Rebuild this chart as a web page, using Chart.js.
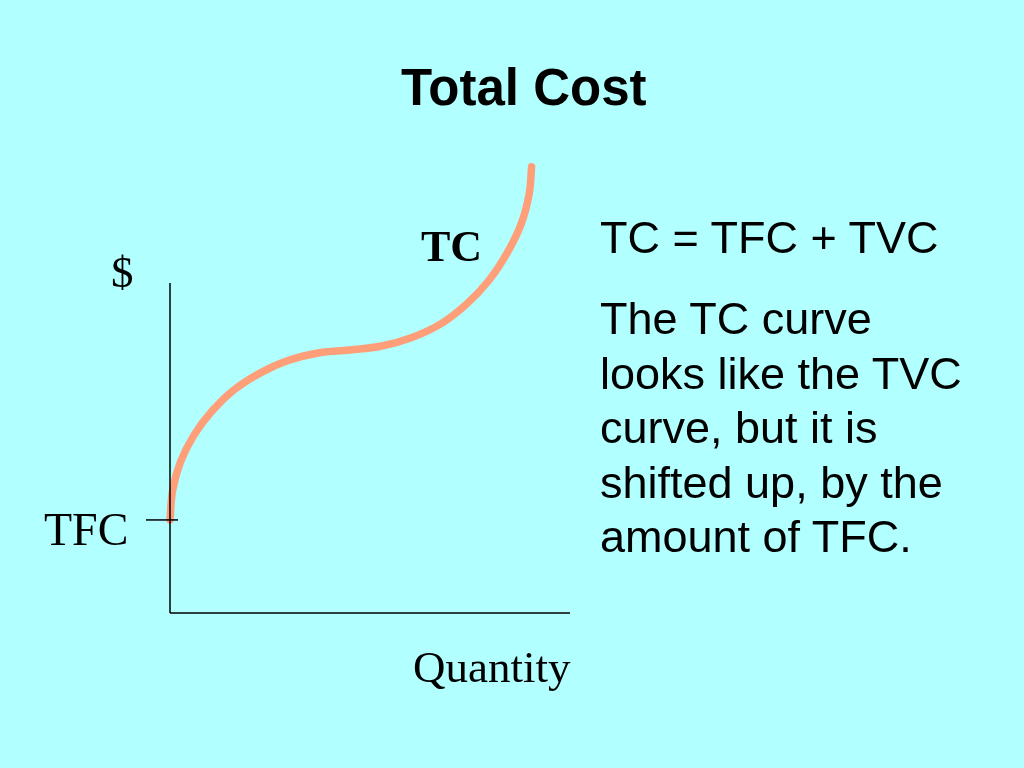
<!DOCTYPE html>
<html>
<head>
<meta charset="utf-8">
<script src="https://cdn.jsdelivr.net/npm/chart.js@4/dist/chart.umd.min.js"></script>
<style>
  html, body { margin: 0; padding: 0; background: #B2FFFF; }
  #wrap { position: relative; width: 1024px; height: 768px; overflow: hidden; background: #B2FFFF; }
  #wrap canvas { position: absolute; left: 0; top: 0; }
  .t { position: absolute; white-space: nowrap; color: #000; line-height: 1; }
  .sans { font-family: "Liberation Sans", Arial, sans-serif; }
  .serif { font-family: "Liberation Serif", "Times New Roman", serif; }
</style>
</head>
<body>
<div id="wrap">
  <canvas id="c" width="1024" height="768"></canvas>
  <div class="t sans" style="left:401px; top:62px; font-size:51px; font-weight:bold;">Total Cost</div>
  <div class="t serif" style="left:421px; top:225px; font-size:44px; font-weight:bold;">TC</div>
  <div class="t serif" style="left:111px; top:250px; font-size:45px;">$</div>
  <div class="t serif" style="left:44px; top:507px; font-size:46px;">TFC</div>
  <div class="t serif" style="left:413px; top:645px; font-size:45px;">Quantity</div>
  <div class="t sans" style="left:600px; top:215px; font-size:45px;">TC = TFC + TVC</div>
  <div class="t sans" style="left:600px; top:292px; font-size:45px; line-height:54.5px;">The TC curve<br>looks like the TVC<br>curve, but it is<br>shifted up, by the<br>amount of TFC.</div>
</div>
<script>
// ---- data ----
const quantity  = [0, 0.068, 0.263, 0.6, 1.05, 1.6, 2.25, 2.95, 3.71, 4.5, 5.29, 6.05, 6.78, 7.43, 7.98, 8.43, 8.78, 8.98, 9.04];
const totalCost = [2.82, 3.73, 4.58, 5.39, 6.12, 6.76, 7.27, 7.65, 7.88, 7.97, 8.09, 8.35, 8.77, 9.38, 10.09, 10.91, 11.79, 12.70, 13.52];
const tfcValue = 2.82;
const tfcTickX = [-0.6, 0.2];
const axisMaxX = 10;
const axisMaxY = 10;
const scaleMaxY = 14;

const tcPoints = quantity.map((q, i) => ({ x: q, y: totalCost[i] }));
const yAxisPts = [{ x: 0, y: 0 }, { x: 0, y: axisMaxY }];
const xAxisPts = [{ x: 0, y: 0 }, { x: axisMaxX, y: 0 }];
const tfcPts = [{ x: tfcTickX[0], y: tfcValue }, { x: tfcTickX[1], y: tfcValue }];

const axisStyle = { borderColor: '#000', borderWidth: 1.5, pointRadius: 0, showLine: true, clip: false, tension: 0 };

new Chart(document.getElementById('c'), {
  type: 'scatter',
  data: {
    datasets: [
      Object.assign({ label: 'y-axis', data: yAxisPts }, axisStyle),
      Object.assign({ label: 'x-axis', data: xAxisPts }, axisStyle),
      Object.assign({ label: 'TFC', data: tfcPts }, axisStyle),
      {
        label: 'TC', data: tcPoints, showLine: true, pointRadius: 0,
        borderColor: '#FF9F7A', borderWidth: 7.5, borderCapStyle: 'round', borderJoinStyle: 'round',
        tension: 0.4, clip: false
      }
    ]
  },
  options: {
    responsive: false,
    animation: false,
    devicePixelRatio: 1,
    layout: { padding: { left: 170, right: 454, top: 151, bottom: 155 } },
    plugins: { legend: { display: false }, tooltip: { enabled: false }, title: { display: false } },
    scales: {
      x: { type: 'linear', min: 0, max: axisMaxX, display: false },
      y: { type: 'linear', min: 0, max: scaleMaxY, display: false }
    }
  }
});
</script>
</body>
</html>
